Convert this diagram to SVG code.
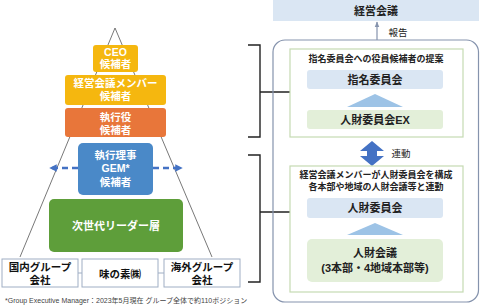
<svg xmlns="http://www.w3.org/2000/svg" width="480" height="308" viewBox="0 0 480 308">
<style>
text{font-family:"Liberation Sans","Noto Sans CJK JP",sans-serif;text-anchor:middle;dominant-baseline:central}
.w{fill:#fff;font-weight:bold;font-size:10.5px}
.k{fill:#111;font-weight:bold;font-size:10.5px}
.s{fill:#222;font-weight:bold;font-size:9px}
.m{fill:#222;font-weight:bold;font-size:11px}
.lb{fill:#DAE6F3}
.lg{fill:#E3EFD9}
.tri{fill:#9DC3E6}
.bb{fill:#fff;stroke:#9FAEC4;stroke-width:1}
.ib{fill:#fff;stroke:#C5DAB2;stroke-width:1.2}
.br{fill:none;stroke:#222;stroke-width:1.4}
</style>
<defs>
<marker id="bh" viewBox="0 0 10 10" refX="9" refY="5" markerWidth="3" markerHeight="3" orient="auto-start-reverse"><path d="M0,0L10,5L0,10z" fill="#4472C4"/></marker>
<marker id="gh" viewBox="0 0 10 10" refX="9" refY="5" markerWidth="5" markerHeight="5" orient="auto"><path d="M0,1L10,5L0,9z" fill="#8593AD"/></marker>
</defs>
<g id="connectors">
<path d="M20,257L115,28L212,257" fill="none" stroke="#555" stroke-width="0.8"/>
<line x1="78" y1="168" x2="50" y2="168" stroke="#4472C4" stroke-width="2.5" stroke-dasharray="6 4" marker-end="url(#bh)"/>
<line x1="153" y1="168" x2="182" y2="168" stroke="#4472C4" stroke-width="2.5" stroke-dasharray="6 4" marker-end="url(#bh)"/>
<line x1="78" y1="273" x2="82" y2="273" stroke="#9FAEC4"/>
<line x1="158" y1="273" x2="164" y2="273" stroke="#9FAEC4"/>
<line x1="377" y1="40" x2="377" y2="22" stroke="#8593AD" stroke-width="1.2" marker-end="url(#gh)"/>
<path class="br" d="M248,45H260V137H248M260,92H290"/>
<path class="br" d="M248,155H260V282H248M260,212H290"/>
<path d="M372,141L384,151H377V156H384L372,166L360,156H367V151H360Z" fill="#4472C4"/>
</g>
<g id="ceo"><rect x="93" y="45" width="45" height="27" rx="3" fill="#F5B70F"/><text class="w" x="115.5" y="52">CEO</text><text class="w" x="115.5" y="64">候補者</text></g>
<g id="member"><rect x="65" y="75" width="101" height="30" rx="3" fill="#F5B70F"/><text class="w" x="115.5" y="83">経営会議メンバー</text><text class="w" x="115.5" y="96">候補者</text></g>
<g id="exec"><rect x="65" y="108" width="101" height="29" rx="3" fill="#E8763A"/><text class="w" x="115.5" y="117">執行役</text><text class="w" x="115.5" y="129.5">候補者</text></g>
<g id="gem"><rect x="78" y="143" width="75" height="52" rx="5" fill="#4A89C8"/><text class="w" x="115.5" y="155">執行理事</text><text class="w" x="115.5" y="168">GEM*</text><text class="w" x="115.5" y="182">候補者</text></g>
<g id="next"><rect x="49" y="199" width="134" height="53" rx="5" fill="#5E9E3A"/><text class="w" x="116" y="225.5" style="font-size:11px">次世代リーダー層</text></g>
<g id="domestic"><rect class="bb" x="2" y="259" width="76" height="28"/><text class="k" x="40" y="266.5">国内グループ</text><text class="k" x="40" y="280">会社</text></g>
<g id="ajinomoto"><rect class="bb" x="82" y="259" width="76" height="28"/><text class="k" x="120" y="273.5">味の素㈱</text></g>
<g id="overseas"><rect class="bb" x="164" y="259" width="76" height="28"/><text class="k" x="202" y="266.5">海外グループ</text><text class="k" x="202" y="280">会社</text></g>
<text x="5" y="300" style="text-anchor:start;font-size:7px;fill:#444">*Group Executive Manager：2023年5月現在 グループ全体で約110ポジション</text>
<g id="board"><rect class="lb" x="273" y="0" width="206" height="21"/><text class="m" x="376" y="10.5">経営会議</text></g>
<text x="398" y="32" style="font-size:9.5px;fill:#222">報告</text>
<rect x="273" y="40" width="205.5" height="262" rx="12" fill="none" stroke="#8593AD" stroke-width="1.2"/>
<g id="proposal"><rect class="ib" x="290" y="49" width="173" height="88"/><text class="s" x="376" y="59">指名委員会への役員候補者の提案</text></g>
<g id="nomination"><rect class="lb" x="307" y="70" width="136" height="19" rx="3"/><text class="m" x="375" y="79.5">指名委員会</text></g>
<polygon class="tri" points="375,94 403,107 347,107"/>
<g id="hrex"><rect class="lg" x="307" y="110" width="136" height="19" rx="3"/><text class="m" x="375" y="119.5">人財委員会EX</text></g>
<text x="401" y="153" style="font-size:9.5px;fill:#222">連動</text>
<g id="hrframe"><rect class="ib" x="290" y="166" width="173" height="126"/><text class="s" x="376" y="175">経営会議メンバーが人財委員会を構成</text><text class="s" x="376" y="187">各本部や地域の人財会議等と連動</text></g>
<g id="hrcommittee"><rect class="lb" x="307" y="198" width="136" height="20" rx="3"/><text class="m" x="375" y="208">人財委員会</text></g>
<polygon class="tri" points="375,223 403,235 347,235"/>
<g id="hrmeeting"><rect class="lg" x="307" y="239" width="136" height="43" rx="5"/><text class="m" x="375" y="253">人財会議</text><text class="m" x="375" y="268">(3本部・4地域本部等)</text></g>
</svg>
